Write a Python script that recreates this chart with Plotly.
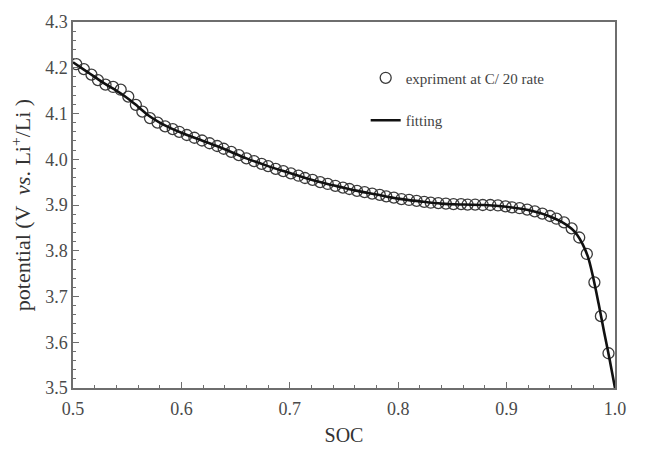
import plotly.graph_objects as go

# Discharge data at C/20 (state of charge vs. potential)
exp_soc = [0.503, 0.510, 0.517, 0.523, 0.530, 0.537, 0.544, 0.551, 0.558, 0.564,
           0.571, 0.578, 0.585, 0.592, 0.598, 0.605, 0.612, 0.619, 0.626, 0.633,
           0.639, 0.646, 0.653, 0.660, 0.667, 0.674, 0.680, 0.687, 0.694, 0.701,
           0.708, 0.714, 0.721, 0.728, 0.735, 0.742, 0.749, 0.755, 0.762, 0.769,
           0.776, 0.783, 0.789, 0.796, 0.803, 0.810, 0.817, 0.824, 0.830, 0.837,
           0.844, 0.851, 0.858, 0.864, 0.871, 0.878, 0.885, 0.892, 0.899, 0.905,
           0.912, 0.919, 0.926, 0.933, 0.940, 0.946, 0.953, 0.960, 0.967, 0.974,
           0.981, 0.987, 0.994]
exp_v = [4.208, 4.197, 4.185, 4.173, 4.163, 4.158, 4.152, 4.137, 4.119, 4.104,
         4.090, 4.080, 4.072, 4.066, 4.060, 4.053, 4.047, 4.041, 4.035, 4.029,
         4.023, 4.016, 4.009, 4.002, 3.996, 3.990, 3.985, 3.979, 3.974, 3.969,
         3.964, 3.959, 3.955, 3.950, 3.946, 3.942, 3.938, 3.935, 3.931, 3.928,
         3.925, 3.922, 3.919, 3.916, 3.913, 3.911, 3.909, 3.907, 3.905, 3.904,
         3.903, 3.902, 3.902, 3.901, 3.901, 3.900, 3.900, 3.899, 3.897, 3.895,
         3.893, 3.890, 3.886, 3.881, 3.876, 3.870, 3.862, 3.849, 3.829, 3.793,
         3.731, 3.657, 3.576]

# Fitted model curve
fit_soc = [0.500, 0.510, 0.520, 0.530, 0.540, 0.550, 0.560, 0.570, 0.580, 0.590,
           0.600, 0.620, 0.640, 0.660, 0.680, 0.700, 0.720, 0.740, 0.760, 0.780,
           0.800, 0.820, 0.840, 0.860, 0.880, 0.900, 0.920, 0.930, 0.940, 0.950,
           0.960, 0.965, 0.970, 0.975, 0.980, 0.985, 0.990, 0.995, 1.000]
fit_v = [4.212, 4.196, 4.180, 4.164, 4.150, 4.134, 4.115, 4.095, 4.080, 4.068,
         4.058, 4.040, 4.022, 4.002, 3.985, 3.970, 3.955, 3.943, 3.932, 3.923,
         3.914, 3.908, 3.903, 3.901, 3.900, 3.896, 3.889, 3.883, 3.875, 3.864,
         3.848, 3.835, 3.815, 3.787, 3.740, 3.683, 3.622, 3.563, 3.500]

x_ticks = [0.5, 0.6, 0.7, 0.8, 0.9, 1.0]
y_ticks = [3.5, 3.6, 3.7, 3.8, 3.9, 4.0, 4.1, 4.2, 4.3]

SERIF = "Liberation Serif, Times New Roman, DejaVu Serif, serif"
AXIS_GRAY = "#6e6e6e"
LABEL_GRAY = "#4a4a4a"

fig = go.Figure()
fig.add_trace(go.Scatter(
    x=exp_soc, y=exp_v, mode="markers", name="expriment at C/ 20 rate",
    legendgroup="a",
    marker=dict(symbol="circle-open", size=11, color="#3a3a3a",
                line=dict(width=1.3, color="#3a3a3a")),
))
fig.add_trace(go.Scatter(
    x=fit_soc, y=fit_v, mode="lines", name="fitting", legendgroup="b",
    line=dict(color="#111111", width=2.6, shape="spline"),
))

axis_common = dict(
    showgrid=False, zeroline=False, showline=True, linecolor=AXIS_GRAY,
    linewidth=1.5, mirror=True, ticks="inside", ticklen=6, tickwidth=1.2,
    tickcolor=AXIS_GRAY, tickformat=".1f",
    tickfont=dict(family=SERIF, size=18, color=LABEL_GRAY),
)

fig.update_xaxes(
    range=[0.5, 1.0], tickvals=x_ticks, ticklabelstandoff=4,
    minor=dict(dtick=0.02, ticks="inside", ticklen=3, tickwidth=1.1,
               tickcolor=AXIS_GRAY, showgrid=False),
    title=dict(text="SOC", font=dict(family=SERIF, size=20, color="#333333"),
               standoff=10),
    **axis_common,
)
fig.update_yaxes(
    range=[3.5, 4.3], tickvals=y_ticks,
    minor=dict(dtick=0.02, ticks="inside", ticklen=3, tickwidth=1.1,
               tickcolor=AXIS_GRAY, showgrid=False),
    title=dict(text="potential (V  <i>vs</i>. Li<sup>+</sup>/Li )",
               font=dict(family=SERIF, size=22, color="#333333"),
               standoff=8),
    **axis_common,
)

fig.update_layout(
    width=647, height=455,
    margin=dict(l=73, r=32, t=13, b=62),
    paper_bgcolor="white", plot_bgcolor="white",
    showlegend=True,
    legend=dict(x=0.54, y=0.892, xanchor="left", yanchor="top",
                bgcolor="rgba(0,0,0,0)", tracegroupgap=20,
                font=dict(family=SERIF, size=15, color="#444444")),
)

fig.write_html("out.html")
